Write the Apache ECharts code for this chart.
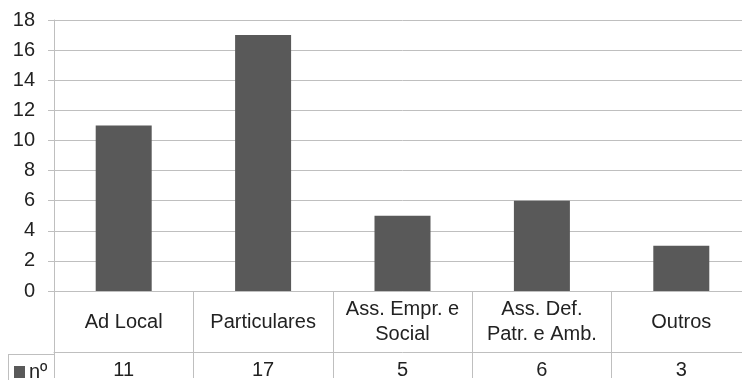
<!DOCTYPE html>
<html>
<head>
<meta charset="utf-8">
<script src="https://cdn.jsdelivr.net/npm/echarts@6/dist/echarts.min.js"></script>
<style>
html,body{margin:0;padding:0;background:#fff;overflow:hidden;width:742px;height:380px;}
#chart{width:751px;height:380px;}
</style>
</head>
<body>
<div id="chart"></div>
<script>
var categories = ['Ad Local', 'Particulares', 'Ass. Empr. e\nSocial', 'Ass. Def.\nPatr. e Amb.', 'Outros'];
var values = [11, 17, 5, 6, 3];
var seriesName = 'nº';
var yTicks = {min: 0, max: 18, interval: 2};

var FONT = '"Liberation Sans", Arial, sans-serif';
var TEXT = '#222';
var LINE = '#bfbfbf';

var chart = echarts.init(document.getElementById('chart'));
chart.setOption({
  animation: false,
  backgroundColor: '#fff',
  textStyle: {fontFamily: FONT},
  grid: {left: 54, right: 0, top: 20, bottom: 87, containLabel: false},
  legend: {
    data: [seriesName],
    left: 14, top: 362,
    icon: 'rect', itemWidth: 11, itemHeight: 12, itemGap: 4,
    padding: 0,
    textStyle: {fontFamily: FONT, fontSize: 20, color: TEXT, padding: [0, 0, 0, -1]}
  },
  xAxis: [{
    type: 'category',
    data: categories,
    position: 'bottom',
    axisLine: {show: true, lineStyle: {color: LINE, width: 1}},
    axisTick: {show: true, alignWithLabel: false, length: 87, lineStyle: {color: LINE, width: 1}},
    axisLabel: {
      interval: 0, margin: 31, verticalAlign: 'middle',
      fontFamily: FONT, fontSize: 20, color: TEXT, lineHeight: 25, align: 'center'
    },
    splitLine: {show: false}
  }, {
    type: 'category',
    data: categories,
    position: 'bottom',
    offset: 61,
    axisLine: {show: true, lineStyle: {color: LINE, width: 1}},
    axisTick: {show: false},
    axisLabel: {
      interval: 0, margin: 18, verticalAlign: 'middle',
      fontFamily: FONT, fontSize: 20, color: TEXT,
      formatter: function (v, i) { return String(values[i]); }
    }
  }],
  yAxis: {
    type: 'value',
    min: yTicks.min, max: yTicks.max, interval: yTicks.interval,
    axisLine: {show: true, lineStyle: {color: LINE, width: 1}},
    axisTick: {show: true, length: 6, lineStyle: {color: LINE, width: 1}},
    axisLabel: {margin: 19, fontFamily: FONT, fontSize: 20, color: TEXT},
    splitLine: {show: true, lineStyle: {color: LINE, width: 1}}
  },
  graphic: [
    {type: 'line', shape: {x1: 8, y1: 354.5, x2: 54, y2: 354.5}, style: {stroke: LINE, lineWidth: 1}, silent: true},
    {type: 'line', shape: {x1: 8.5, y1: 354, x2: 8.5, y2: 380}, style: {stroke: LINE, lineWidth: 1}, silent: true}
  ],
  series: [{
    name: seriesName,
    type: 'bar',
    xAxisIndex: 0,
    data: values,
    barWidth: 56,
    itemStyle: {color: '#595959'}
  }]
});
</script>
</body>
</html>
